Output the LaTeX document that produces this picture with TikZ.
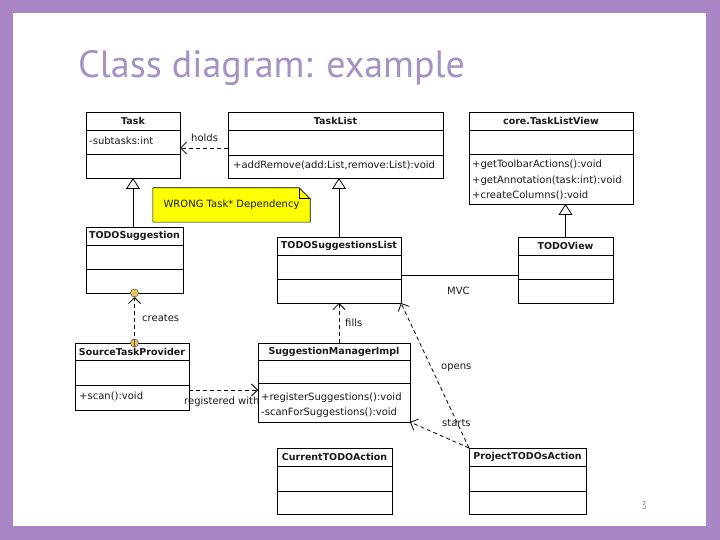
\documentclass[tikz,border=0pt]{standalone}
\usepackage{fontspec}
\setmainfont{DejaVu Sans}
\newfontfamily\titlefont{PT Sans}
\usetikzlibrary{positioning,arrows.meta,fit,calc}
\definecolor{SlideFrame}{HTML}{A985C5}
\definecolor{TitleLilac}{HTML}{A791C2}
\definecolor{NoteYellow}{HTML}{FFFF00}
\definecolor{PinGold}{HTML}{E9C35B}
\definecolor{TextDark}{HTML}{1A1A1A}

\tikzset{
  classbox/.style={draw=black, line width=0.8pt, fill=white, inner sep=0pt, outer sep=0pt},
  classtitle/.style={font=\fontsize{9.5}{11}\selectfont\bfseries, text=TextDark, inner sep=0pt},
  member/.style={font=\fontsize{10}{14.5}\selectfont, text=TextDark, anchor=west, inner sep=0pt},
  edgelabel/.style={font=\fontsize{10}{11}\selectfont, text=TextDark, anchor=west, inner sep=0pt},
  depline/.style={line width=0.8pt, dash pattern=on 4pt off 3pt, -{Straight Barb[length=6pt,width=12pt]}},
  genline/.style={line width=0.8pt, -{Triangle[open,length=11pt,width=14pt,fill=white]}},
  pin/.style={fill=PinGold, draw=black!70, line width=0.5pt},
}

\begin{document}
\begin{tikzpicture}[x=1pt,y=-1pt]
  \useasboundingbox (0,0) rectangle (720,540);
  \fill[SlideFrame] (0,0) rectangle (720,540);
  \fill[white] (13,13) rectangle (706,526);

  \node[anchor=base west, inner sep=0pt, text=TitleLilac,
    font=\titlefont\fontsize{38}{42}\selectfont] (slidetitle) at (78,78)
  {Class diagram: example};

  % classes: name / box / compartment lines / title
  \foreach \nm/\xa/\ya/\xb/\yb/\la/\lb/\ttl in {
      task/86/112/180/178/130/154/Task,
      tasklist/228/112/443/178/130/155/TaskList,
      listview/469/112/633/204/130/154/core.TaskListView,
      todosug/86/227/183/293/245/269/TODOSuggestion,
      suglist/277/237/401/303/255/279/TODOSuggestionsList,
      todoview/518/237/613/303/255/279/TODOView,
      sourcetp/75/343/189/410/360/385/SourceTaskProvider,
      sugmgr/258/343/410/422/360/383/SuggestionManagerImpl,
      curaction/277/448/392/514/466/491/CurrentTODOAction,
      projaction/469/448/586/514/466/491/ProjectTODOsAction} {
      \node[classbox, fit={(\xa,\ya) (\xb,\yb)}] (\nm) {};
      \draw[line width=0.8pt] (\nm.west |- 0,\la) -- (\nm.east |- 0,\la)
      (\nm.west |- 0,\lb) -- (\nm.east |- 0,\lb);
      \node[classtitle] (\nm-title) at ({(\xa+\xb)/2},{(\ya+\la)/2}) {\ttl};
    }

  \node[member] (task-attr) at (89,141) {-subtasks:int};
  \node[member] (tasklist-ops) at (233,165) {+addRemove(add:List,remove:List):void};
  \node[member, anchor=north west, align=left, font=\fontsize{10}{15.5}\selectfont] (listview-ops) at (472,160)
  {+getToolbarActions():void\\+getAnnotation(task:int):void\\+createColumns():void};
  \node[member] (sourcetp-ops) at (79,396) {+scan():void};
  \node[member, anchor=north west, align=left] (sugmgr-ops) at (261,393)
  {+registerSuggestions():void\\-scanForSuggestions():void};

  % note
  \node[inner sep=0pt, minimum width=157pt, minimum height=34pt] (wrongnote) at (231.5,205) {};
  \draw[fill=NoteYellow, line width=0.6pt] (wrongnote.north west)
  -- ([xshift=-11pt]wrongnote.north east) -- ([yshift=-11pt]wrongnote.north east)
  -- (wrongnote.south east) -- (wrongnote.south west) -- cycle;
  \draw[line width=0.6pt] ([xshift=-11pt]wrongnote.north east)
  -- ([xshift=-11pt,yshift=-11pt]wrongnote.north east) -- ([yshift=-11pt]wrongnote.north east);
  \node[font=\fontsize{10}{11}\selectfont, text=TextDark] (wrongnote-text) at (wrongnote.center)
  {WRONG Task* Dependency};

  % generalizations
  \draw[genline] (todosug.north -| task.south) -- (task.south);
  \draw[genline] (suglist.north) -- (suglist.north |- tasklist.south);
  \draw[genline] (todoview.north) -- (todoview.north |- listview.south);

  % dependencies
  \draw[depline] (tasklist.west |- 0,148) -- (task.east |- 0,148);
  \node[edgelabel] (holds-lbl) at (191,138) {holds};

  \draw[line width=0.8pt] (suglist.east |- 0,275) -- (todoview.west |- 0,275);
  \node[edgelabel] (mvc-lbl) at (447,291) {MVC};

  \draw[depline] (suglist.south |- sugmgr.north) -- (suglist.south);
  \node[edgelabel] (fills-lbl) at (345,323) {fills};

  \coordinate (creates-end) at (sourcetp.north -| todosug.south);
  \draw[depline, shorten >=4pt] (creates-end) -- (todosug.south);
  \filldraw[pin] (todosug.south) circle (4pt);
  \filldraw[pin] (creates-end) circle (4pt);
  \draw[line width=0.5pt, black!70] ([yshift=4pt]creates-end) -- ([yshift=-4pt]creates-end);
  \node[edgelabel] (creates-lbl) at (142,318) {creates};

  \draw[depline] (sourcetp.east |- 0,390) -- (sugmgr.west |- 0,390);
  \node[edgelabel] (registered-lbl) at (184,402) {registered with};

  \draw[depline] (projaction.north west) -- (suglist.south east);
  \node[edgelabel] (opens-lbl) at (441,368) {opens};
  \draw[depline] (projaction.north west) -- (sugmgr.south east);
  \node[edgelabel] (starts-lbl) at (442,423) {starts};

  \node[font=\titlefont\fontsize{11}{12}\selectfont, text=TitleLilac] (pagenum) at (644,506) {3};
\end{tikzpicture}
\end{document}
